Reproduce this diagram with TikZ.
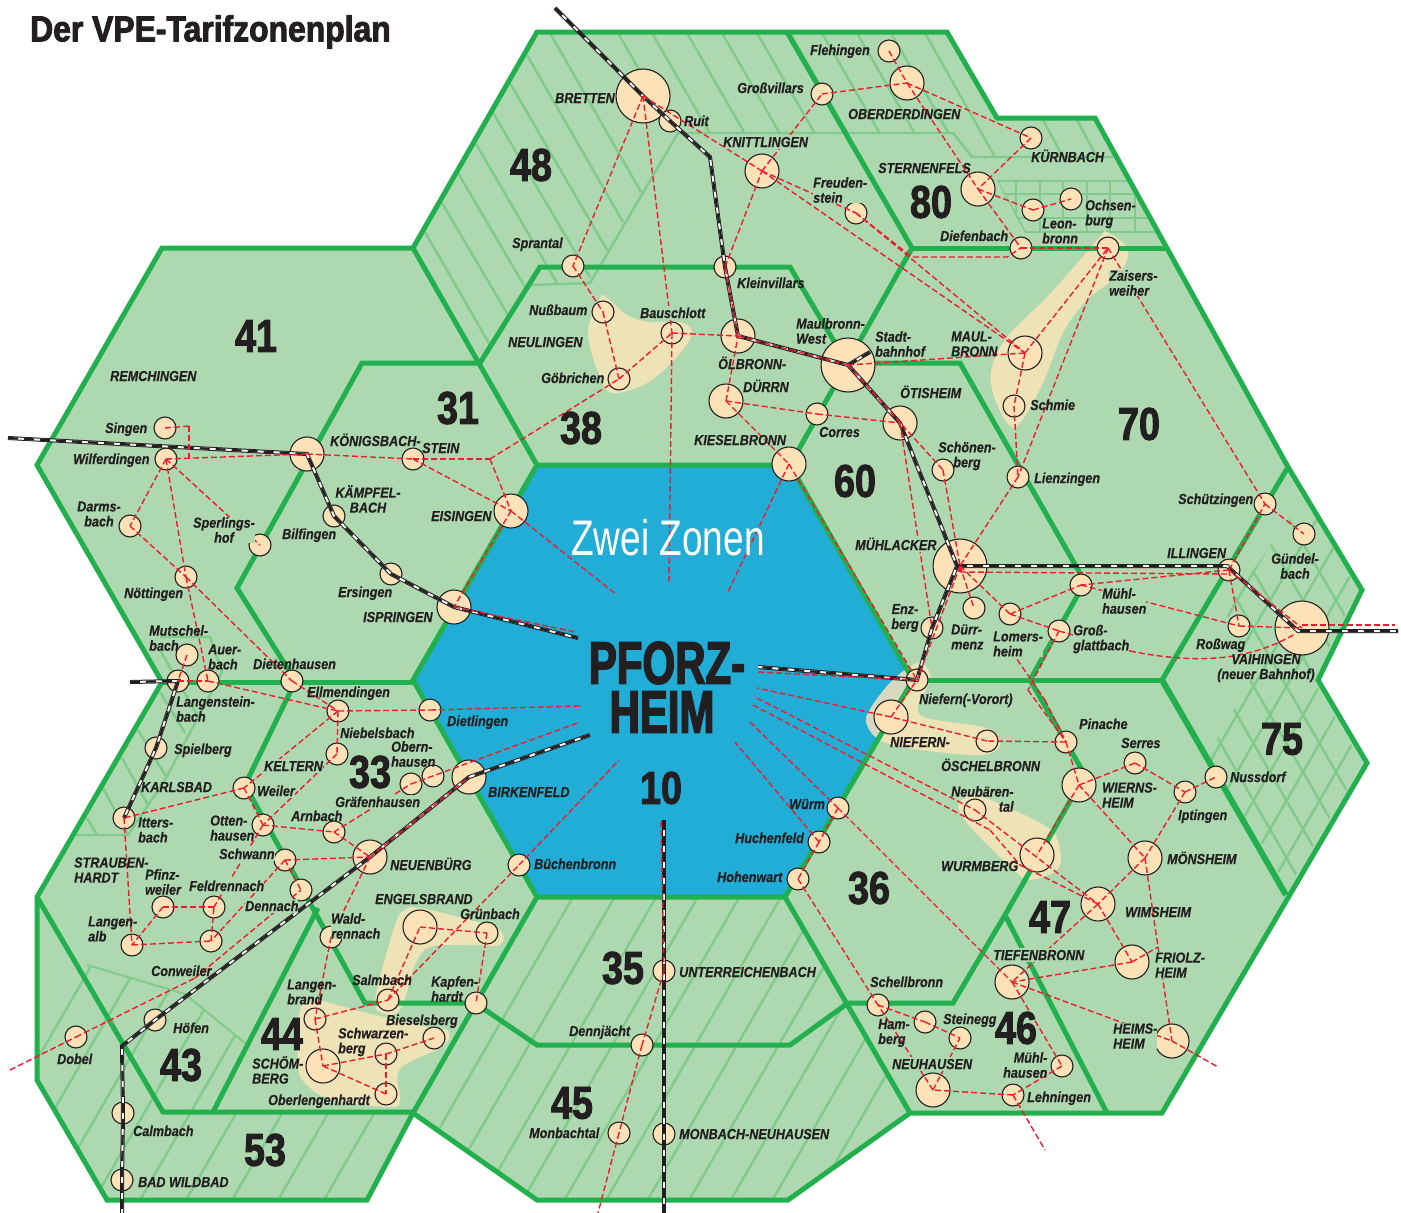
\documentclass[tikz,border=0pt]{standalone}
\usepackage{fontspec}
\setmainfont{Liberation Sans}
\newfontfamily\lblf[FakeStretch=0.87,FakeBold=0.4]{Liberation Sans}
\newfontfamily\numf[FakeStretch=0.82,FakeBold=2]{Liberation Sans}
\newfontfamily\pfof[FakeStretch=0.7,FakeBold=2.5]{Liberation Sans}
\newfontfamily\titf[FakeStretch=0.885,FakeBold=2.5]{Liberation Sans}
\newfontfamily\zwef[FakeStretch=0.74]{Liberation Sans}
\definecolor{zfill}{HTML}{AED8B0}
\definecolor{zline}{HTML}{22B04E}
\definecolor{hline}{HTML}{80CB8C}
\definecolor{cityblue}{HTML}{21ADD5}
\definecolor{stnfill}{HTML}{FDE1B7}
\definecolor{blob}{HTML}{EEE2B7}
\definecolor{blobb}{HTML}{D8D8C2}
\definecolor{redl}{HTML}{ED1C2E}
\definecolor{ink}{HTML}{231F20}
\tikzset{
 zone/.style={draw=zline,line width=5pt,line join=miter,line cap=butt},
 hatch/.style={draw=hline,line width=2.4pt},
 stn/.style={circle,draw=ink,line width=1.1pt,fill=stnfill,inner sep=0pt},
 stnS/.style={stn,minimum size=22pt},
 stnM/.style={stn,minimum size=34pt},
 stnL/.style={stn,minimum size=54pt},
 rl/.style={draw=redl,line width=1.4pt,dash pattern=on 6pt off 3pt},
 rail/.style={draw=ink,line width=4pt,line join=miter,
   postaction={draw=white,line width=2pt},
   postaction={draw=ink,line width=2.2pt,dash pattern=on 10pt off 6pt}},
 lbl/.style={font=\lblf\bfseries\itshape\fontsize{14.5}{15}\selectfont,text=ink,inner sep=0pt,anchor=west,text height=12pt,text depth=2pt},
 lbm/.style={font=\lblf\bfseries\itshape\fontsize{14.5}{15}\selectfont,text=ink,inner sep=0pt,anchor=west,align=left,yshift=-1pt},
 lbc/.style={lbm,anchor=center,align=center},
 mask/.style={fill=zfill},
 num/.style={font=\numf\bfseries\fontsize{46}{46}\selectfont,text=ink,inner sep=0pt,anchor=center},
 pfo/.style={font=\pfof\bfseries\fontsize{60}{60}\selectfont,text=ink,inner sep=0pt,anchor=center},
}
\begin{document}
\begin{tikzpicture}[x=1pt,y=-1pt]
\useasboundingbox (0,0) rectangle (1401,1213);
% --- base area
\fill[zfill] (537,32)--(947,32)--(997,118)--(1095,118)--(1288,467)--(1362,590)--(1318,680)--(1367,763)--(1162,1113)--(910,1113)--(788,1200)--(537,1200)--(413,1113)--(367,1200)--(107,1200)--(37,1080)--(37,897)--(162,682)--(37,465)--(162,248)--(413,248)--cycle;
% --- hatching zone 48 / 80
\foreach \a/\b/\c/\d in {550/33/641/192,527/55/623/222,510/83/607/250,493/113/590/277,475/142/557/283,458/173/525/287,442/203/508/315,425/232/490/345,
 618/33/675/132,652/33/709/132,687/33/744/132,722/33/779/132,757/33/814/132,790/33/847/132,822/33/879/132,857/33/914/132,891/33/948/132,925/33/995/157,1043/120/1063/157,1077/120/1097/157}
  \draw[hatch] (\a,\b)--(\c,\d);
\draw[hatch] (480,363)--(530,285)--(590,283)--(678,133)--(953,133)--(972,157)--(1113,157);
% Ochsenburg grid
\begin{scope}
\clip (997,180)--(1126,180)--(1156,233)--(1025,233)--cycle;
\foreach \y in {181,194,218,232} \draw[hatch] (990,\y)--(1160,\y);
\foreach \x in {1016,1040,1063,1087,1110,1135} \draw[hatch] (\x,181)--(\x,232);
\draw[hatch] (997,181)--(1025,232);
\end{scope}
% zone 75 lattice
\begin{scope}
\clip (1305,497)--(1357,590)--(1313,680)--(1362,763)--(1288,888)--(1208,755)--(1250,680)--(1225,610)--cycle;
\foreach \k in {-8,...,14} \draw[hatch] ({1171+33*\k},486)--++(240,416);
\foreach \k in {0,...,26} \draw[hatch] ({1171+33*\k},486)--++(-240,416);
\end{scope}
% zone 35/45 hatching
\begin{scope}
\clip (537,897)--(785,897)--(848,1003)--(910,1113)--(788,1200)--(537,1200)--(413,1113)--(475,1003)--cycle;
\foreach \k in {-1,...,10} \draw[hatch] ({573+41.6*\k},897)--++(-175,303);
\end{scope}
% zone 43/53 hatching
\begin{scope}
\clip (37,897)--(87,965)--(185,994)--(245,1043)--(213,1112)--(413,1112)--(367,1200)--(107,1200)--(37,1080)--cycle;
\foreach \k in {-4,...,6} \draw[hatch] ({140+46*\k},1200)--++(175,-303);
\end{scope}
\draw[hatch,line width=2pt] (87,965)--(185,994)--(245,1043);
% Karlsbad hatching
\foreach \a/\b/\c/\d in {87/818/97/835,103/788/128/835,122/758/148/805,138/730/167/778,160/692/185/733,160/650/200/720}
  \draw[hatch] (\a,\b)--(\c,\d);
\draw[hatch] (160,637)--(210,637)--(222,672)--(165,780)--(128,835)--(75,835);
% --- cream blobs
\fill[blob] plot[smooth cycle,tension=0.6] coordinates {(600,298)(588,333)(600,377)(613,393)(647,383)(677,357)(692,333)(680,322)(650,322)(627,315)(607,298)};
\fill[blob] plot[smooth cycle,tension=0.6] coordinates {(1107,232)(1128,250)(1118,275)(1087,300)(1063,333)(1043,383)(1020,423)(1007,423)(993,393)(992,367)(1007,337)(1047,297)(1080,260)(1100,237)};
\fill[blob] plot[smooth cycle,tension=0.6] coordinates {(958,807)(967,797)(983,797)(1047,827)(1060,850)(1057,870)(1030,880)(1017,873)(973,830)};
\fill[blob] plot[smooth cycle,tension=0.6] coordinates {(420,908)(470,920)(500,930)(500,945)(470,945)(430,947)(415,965)(400,1010)(380,1012)(376,995)(395,925)(405,910)};
\fill[blob] plot[smooth cycle,tension=0.6] coordinates {(300,1010)(317,1001)(337,1005)(363,1012)(427,1027)(448,1031)(443,1046)(400,1069)(400,1100)(390,1107)(333,1100)(307,1085)(298,1065)};
% --- centre hexagon
\fill[cityblue] (537,465)--(790,465)--(913,680)--(785,897)--(537,897)--(413,680)--cycle;
\fill[blob] plot[smooth cycle,tension=0.6] coordinates {(930,673)(917,663)(890,683)(868,713)(868,727)(880,740)(907,748)(973,755)(997,750)(998,737)(983,727)(927,718)(918,707)(927,687)};
\begin{scope}
\clip (537,465)--(790,465)--(913,680)--(785,897)--(537,897)--(413,680)--cycle;
\fill[blobb] plot[smooth cycle,tension=0.6] coordinates {(930,673)(917,663)(890,683)(868,713)(868,727)(880,740)(907,748)(973,755)(997,750)(998,737)(983,727)(927,718)(918,707)(927,687)};
\end{scope}
% --- zone borders
\draw[zone] (537,32)--(947,32)--(997,118)--(1095,118)--(1288,467)--(1362,590)--(1318,680)--(1367,763)--(1162,1113)--(910,1113)--(788,1200)--(537,1200)--(413,1113)--(367,1200)--(107,1200)--(37,1080)--(37,897)--(162,682)--(37,465)--(162,248)--(413,248)--cycle;
\draw[zone] (537,465)--(790,465)--(913,680)--(785,897)--(537,897)--(413,680)--cycle;
\draw[zone] (413,248)--(537,465);
\draw[zone] (480,363)--(362,363)--(237,588)--(298,685);
\draw[zone] (480,363)--(540,267)--(790,267)--(835,343);
\draw[zone] (787,32)--(912,248)--(790,465);
\draw[zone] (912,248)--(1165,248);
\draw[zone] (848,363)--(960,363)--(1085,582)--(1030,680);
\draw[zone] (1288,467)--(1162,680);
\draw[zone] (913,680)--(1162,680);
\draw[zone,line width=6pt] (1162,680)--(1286,895);
\draw[zone] (1030,680)--(1085,775)--(1005,915)--(953,1003)--(848,1003);
\draw[zone] (1005,915)--(1107,1113);
\draw[zone] (785,897)--(910,1113);
\draw[zone] (848,1003)--(790,1045)--(537,1045)--(475,1003);
\draw[zone] (537,897)--(413,1113);
\draw[zone] (475,1003)--(365,1003)--(245,785)--(295,682);
\draw[zone] (162,682)--(413,682);
\draw[zone] (318,908)--(213,1112);
\draw[zone] (37,897)--(163,1112)--(413,1112);
% --- stations
\node[stnL] (bretten) at (643,96) {};
\node[stnS] (ruit) at (670,121) {};
\node[stnS] (sprantal) at (573,266) {};
\node[stnS] (nussbaum) at (603,312) {};
\node[stnS] (bauschlott) at (672,333) {};
\node[stnS] (goebrichen) at (619,379) {};
\node[stnS] (kleinvillars) at (725,267) {};
\node[stnM] (oelbronn) at (738,336) {};
\node[stnM] (duerrn) at (726,401) {};
\node[stnL] (mwest) at (848,365) {};
\node[stnS] (corres) at (817,414) {};
\node[stnM] (oetisheim) at (900,423) {};
\node[stnM] (kieselbronn) at (789,464) {};
\node[stnM] (knittlingen) at (762,171) {};
\node[stnS] (grossvillars) at (822,94) {};
\node[stnS] (flehingen) at (889,51) {};
\node[stnM] (oberderdingen) at (907,83) {};
\node[stnS] (kuernbach) at (1031,138) {};
\node[stnM] (sternenfels) at (978,189) {};
\node[stnS] (freudenstein) at (856,213) {};
\node[stnS] (leonbronn) at (1033,210) {};
\node[stnS] (ochsenburg) at (1071,199) {};
\node[stnS] (diefenbach) at (1021,248) {};
\node[stnS] (zaisersweiher) at (1108,248) {};
\node[stnM] (maulbronn) at (1025,353) {};
\node[stnS] (schmie) at (1014,406) {};
\node[stnS] (lienzingen) at (1018,477) {};
\node[stnS] (schoenenberg) at (943,470) {};
\node[stnL] (muehlacker) at (960,566) {};
\node[stnS] (duerrmenz) at (974,608) {};
\node[stnS] (lomersheim) at (1010,614) {};
\node[stnS] (enzberg) at (932,628) {};
\node[stnS] (muehlhausenA) at (1081,585) {};
\node[stnS] (illingen) at (1229,570) {};
\node[stnS] (schuetzingen) at (1265,504) {};
\node[stnS] (guendelbach) at (1304,534) {};
\node[stnS] (rosswag) at (1239,626) {};
\node[stnL] (vaihingen) at (1302,628) {};
\node[stnS] (grossglattbach) at (1059,631) {};
\node[stnS] (nieferna) at (917,680) {};
\node[stnM] (niefern) at (891,717) {};
\node[stnS] (oeschelbronn) at (987,741) {};
\node[stnS] (pinache) at (1066,742) {};
\node[stnS] (serres) at (1135,763) {};
\node[stnS] (iptingen) at (1185,792) {};
\node[stnS] (nussdorf) at (1216,777) {};
\node[stnM] (wiernsheim) at (1079,785) {};
\node[stnM] (moensheim) at (1145,858) {};
\node[stnM] (wimsheim) at (1098,904) {};
\node[stnM] (friolzheim) at (1132,962) {};
\node[stnM] (heimsheim) at (1172,1041) {};
\node[stnM] (tiefenbronn) at (1012,982) {};
\node[stnS] (neubaerental) at (975,810) {};
\node[stnM] (wurmberg) at (1037,855) {};
\node[stnS] (wuerm) at (838,808) {};
\node[stnS] (huchenfeld) at (819,842) {};
\node[stnS] (hohenwart) at (798,879) {};
\node[stnS] (schellbronn) at (878,1005) {};
\node[stnS] (hamberg) at (925,1022) {};
\node[stnS] (steinegg) at (960,1038) {};
\node[stnM] (neuhausen) at (933,1090) {};
\node[stnS] (muehlhausenB) at (1062,1066) {};
\node[stnS] (lehningen) at (1013,1095) {};
\node[stnS] (buechenbronn) at (519,865) {};
\node[stnM] (birkenfeld) at (469,777) {};
\node[stnM] (engelsbrand) at (420,927) {};
\node[stnS] (gruenbach) at (487,933) {};
\node[stnS] (kapfenhardt) at (476,1003) {};
\node[stnS] (salmbach) at (388,1000) {};
\node[stnS] (waldrennach) at (331,937) {};
\node[stnM] (neuenbuerg) at (370,857) {};
\node[stnS] (unterreichenbach) at (664,971) {};
\node[stnS] (dennjaecht) at (642,1045) {};
\node[stnS] (monbachtal) at (619,1133) {};
\node[stnS] (monbach) at (664,1134) {};
\node[stnS] (langenbrand) at (315,1019) {};
\node[stnM] (schoemberg) at (323,1066) {};
\node[stnS] (schwarzenberg) at (386,1054) {};
\node[stnS] (bieselsberg) at (434,1038) {};
\node[stnS] (oberlengenhardt) at (386,1094) {};
\node[stnS] (hoefen) at (155,1020) {};
\node[stnS] (dobel) at (76,1037) {};
\node[stnS] (calmbach) at (123,1113) {};
\node[stnS] (wildbad) at (122,1180) {};
\node[stnS] (dennach) at (301,890) {};
\node[stnS] (schwann) at (285,860) {};
\node[stnS] (ottenhausen) at (263,825) {};
\node[stnS] (weiler) at (244,788) {};
\node[stnS] (arnbach) at (334,832) {};
\node[stnS] (graefenhausen) at (411,784) {};
\node[stnS] (obernhausen) at (433,776) {};
\node[stnS] (niebelsbach) at (337,754) {};
\node[stnS] (ellmendingen) at (338,711) {};
\node[stnS] (dietlingen) at (430,710) {};
\node[stnS] (dietenhausen) at (292,681) {};
\node[stnS] (auerbach) at (208,681) {};
\node[stnS] (langenstein) at (178,681) {};
\node[stnS] (mutschelbach) at (187,655) {};
\node[stnS] (spielberg) at (156,748) {};
\node[stnS] (ittersbach) at (124,818) {};
\node[stnS] (pfinzweiler) at (163,907) {};
\node[stnS] (feldrennach) at (214,907) {};
\node[stnS] (conweiler) at (211,941) {};
\node[stnS] (langenalb) at (132,945) {};
\node[stnS] (singen) at (165,428) {};
\node[stnS] (wilferdingen) at (166,459) {};
\node[stnS] (darmsbach) at (130,526) {};
\node[stnS] (sperlingshof) at (260,545) {};
\node[stnS] (noettingen) at (186,577) {};
\node[stnM] (koenigsbach) at (307,454) {};
\node[stnS] (stein) at (413,459) {};
\node[stnS] (bilfingen) at (334,516) {};
\node[stnS] (ersingen) at (391,574) {};
\node[stnM] (ispringen) at (454,607) {};
\node[stnM] (eisingen) at (511,511) {};
% --- free ends
\coordinate (rA) at (555,8);
\coordinate (rAk) at (710,157);
\coordinate (rB) at (758,667);
\coordinate (rC) at (8,438);
\coordinate (rD) at (578,638);
\coordinate (rE) at (130,682);
\coordinate (rF) at (590,735);
\coordinate (rFk) at (122,1046);
\coordinate (rG) at (122,1213);
\coordinate (rH) at (664,820);
\coordinate (rI) at (664,1213);
\coordinate (rJ) at (1398,631);
\coordinate (rS) at (870,352);
\coordinate (rM) at (957,566);
\coordinate (rL) at (1227,566);
\coordinate (rV) at (1298,631);
\coordinate (kA) at (490,459);
\coordinate (kB) at (189,426);
\coordinate (kC) at (189,459);
\coordinate (kD) at (912,257);
\coordinate (kE) at (1007,257);
\coordinate (kF) at (1158,947);
\coordinate (kG) at (195,978);
\coordinate (kH) at (1028,690);
\coordinate (kI) at (1012,652);
\coordinate (kJ) at (1045,700);
\coordinate (kK) at (990,830);
\coordinate (kL) at (1020,865);
\coordinate (mH) at (960,572);
\coordinate (iH) at (1229,574);
\coordinate (cA) at (1130,651);
\coordinate (cB) at (1200,665);
\coordinate (cC) at (1250,660);
\coordinate (vH) at (1295,634);
\coordinate (sP1) at (669,583);
\coordinate (sP2) at (617,595);
\coordinate (sP3) at (576,632);
\coordinate (sP4) at (728,592);
\coordinate (sP5) at (580,706);
\coordinate (sP6) at (580,722);
\coordinate (sP7) at (619,760);
\coordinate (sP8) at (661,820);
\coordinate (sP9) at (735,742);
\coordinate (sP10) at (750,722);
\coordinate (sP11) at (753,705);
\coordinate (sP12) at (757,698);
\coordinate (sP13) at (757,688);
\coordinate (sP14) at (757,672);
\coordinate (eA) at (10,1070);
\coordinate (eB) at (598,1213);
\coordinate (eC) at (1218,1067);
\coordinate (eD) at (1045,1150);
\coordinate (eE) at (1395,625);
\coordinate (vE) at (1302,625);
% --- rail lines
\draw[rail] (rA)--(bretten.center)--(ruit.center)--(rAk)--(kleinvillars.center)--(oelbronn.center)--(mwest.center)--(oetisheim.center)--(rM)--(enzberg.center)--(nieferna.center)--(rB);
\draw[rail] (mwest.center)--(rS);
\draw[rail] (rM)--(rL)--(rV)--(rJ);
\draw[rail] (rC)--(koenigsbach.center)--(bilfingen.center)--(ersingen.center)--(ispringen.center)--(rD);
\draw[rail] (rE)--(langenstein.center)--(spielberg.center)--(ittersbach.center);
\draw[rail] (rF)--(birkenfeld.center)--(neuenbuerg.center)--(hoefen.center)--(rFk)--(calmbach.center)--(wildbad.center)--(rG);
\draw[rail] (rH)--(unterreichenbach.center)--(monbach.center)--(rI);
% --- red connections
\foreach \a/\b in {bretten/knittlingen,bretten/sprantal,bretten/bauschlott,sprantal/nussbaum,nussbaum/goebrichen,goebrichen/bauschlott,bauschlott/oelbronn,bauschlott/sP1,
 kA/goebrichen,stein/kA,kA/eisingen,koenigsbach/stein,stein/eisingen,wilferdingen/koenigsbach,wilferdingen/darmsbach,wilferdingen/noettingen,wilferdingen/sperlingshof,darmsbach/noettingen,noettingen/auerbach,noettingen/dietenhausen,dietenhausen/ellmendingen,mutschelbach/langenstein,langenstein/auerbach,auerbach/ellmendingen,ellmendingen/dietlingen,dietlingen/sP5,ellmendingen/niebelsbach,ellmendingen/weiler,niebelsbach/ottenhausen,weiler/ittersbach,weiler/ottenhausen,ottenhausen/arnbach,arnbach/graefenhausen,graefenhausen/sP6,arnbach/neuenbuerg,ottenhausen/feldrennach,schwann/neuenbuerg,schwann/dennach,schwann/conweiler,feldrennach/pfinzweiler,pfinzweiler/langenalb,langenalb/conweiler,conweiler/feldrennach,ittersbach/langenalb,neuenbuerg/birkenfeld,neuenbuerg/waldrennach,waldrennach/langenbrand,langenbrand/salmbach,langenbrand/schoemberg,schoemberg/schwarzenberg,schwarzenberg/bieselsberg,schoemberg/oberlengenhardt,schwarzenberg/oberlengenhardt,salmbach/engelsbrand,engelsbrand/gruenbach,gruenbach/kapfenhardt,salmbach/buechenbronn,buechenbronn/sP7,
 oelbronn/mwest,oelbronn/kleinvillars,kleinvillars/knittlingen,knittlingen/grossvillars,grossvillars/oberderdingen,flehingen/oberderdingen,oberderdingen/sternenfels,oberderdingen/kuernbach,kuernbach/sternenfels,sternenfels/leonbronn,leonbronn/ochsenburg,sternenfels/diefenbach,diefenbach/zaisersweiher,knittlingen/freudenstein,freudenstein/maulbronn,knittlingen/maulbronn,maulbronn/zaisersweiher,mwest/maulbronn,maulbronn/schmie,schmie/lienzingen,zaisersweiher/lienzingen,zaisersweiher/schuetzingen,lienzingen/muehlacker,duerrn/kieselbronn,duerrn/oelbronn,duerrn/corres,corres/oetisheim,mwest/schoenenberg,schoenenberg/muehlacker,oetisheim/enzberg,muehlacker/nieferna,kieselbronn/nieferna,kieselbronn/sP4,muehlacker/duerrmenz,muehlacker/lomersheim,lomersheim/muehlhausenA,lomersheim/grossglattbach,illingen/muehlhausenA,illingen/schuetzingen,schuetzingen/guendelbach,illingen/vaihingen,illingen/rosswag,rosswag/vaihingen,muehlhausenA/rosswag,
 grossglattbach/kH,kH/pinache,kI/kJ,kJ/pinache,pinache/oeschelbronn,oeschelbronn/niefern,niefern/nieferna,nieferna/sP14,niefern/sP13,pinache/wiernsheim,wiernsheim/serres,serres/iptingen,iptingen/nussdorf,wiernsheim/moensheim,iptingen/moensheim,wiernsheim/wurmberg,moensheim/wimsheim,moensheim/kF,friolzheim/kF,kF/heimsheim,wimsheim/friolzheim,wimsheim/tiefenbronn,friolzheim/tiefenbronn,tiefenbronn/heimsheim,heimsheim/eC,tiefenbronn/muehlhausenB,muehlhausenB/lehningen,lehningen/neuhausen,lehningen/eD,neuhausen/steinegg,neuhausen/schellbronn,schellbronn/hamberg,hamberg/steinegg,wuerm/tiefenbronn,hohenwart/schellbronn,wuerm/huchenfeld,huchenfeld/hohenwart,wuerm/sP10,huchenfeld/sP9,sP12/neubaerental,neubaerental/wimsheim,sP11/kK,kK/kL,kL/wimsheim,ispringen/sP3,eisingen/sP2,eisingen/ispringen,unterreichenbach/sP8,unterreichenbach/dennjaecht,dennjaecht/monbachtal,monbachtal/eB,eA/dobel,dobel/kG,kG/dennach,singen/kB,kB/kC,mH/iH,muehlacker/mH}
  \draw[rl] (\a.center)--(\b.center);
\draw[rl] (freudenstein.center)--(kD.center)--(kE.center)--(diefenbach.center);
\draw[rl] (grossglattbach.center)--(cA.center);
\draw[rl] (cA) .. controls (cB) and (cC) .. (vH);
\draw[rl] (vE.center)--(eE.center);
% --- title and main texts
\node[font=\titf\bfseries\fontsize{36}{36}\selectfont,text=ink,inner sep=0pt,anchor=west] (title) at (30,32) {Der VPE-Tarifzonenplan};
\node[font=\zwef\fontsize{50}{50}\selectfont,text=white,inner sep=0pt] (zwei) at (668,538) {Zwei Zonen};
\node[pfo] (pfa) at (667,663) {PFORZ-};
\node[pfo] (pfb) at (662,712) {HEIM};
% --- zone numbers
\foreach \n/\x/\y in {48/531/165,80/931/202,41/256/336,31/458/408,38/581/428,70/1139/424,60/855/481,75/1282/739,33/370/772,36/869/888,47/1050/917,46/1016/1028,44/282/1034,43/181/1065,53/265/1150,35/623/968,45/572/1103,10/661/788}
  \node[num] (z\n) at (\x,\y) {\n};
% --- labels (single line)
\foreach \m/\t/\x/\y in {
 a1/BRETTEN/555/98,a2/Ruit/684/121,a3/Großvillars/737/88,a4/Flehingen/810/50,a5/OBERDERDINGEN/848/114,
 a7/KÜRNBACH/1031/157,a8/STERNENFELS/878/168,a9/Diefenbach/940/236,
 a10/Sprantal/512/243,a11/Nußbaum/529/310,a13/NEULINGEN/508/342,a14/Göbrichen/541/378,a15/Kleinvillars/737/283,
 a16/ÖLBRONN-/718/364,a17/DÜRRN/743/387,a18/ÖTISHEIM/900/393,a19/Schmie/1030/405,a20/Corres/819/432,a21/KIESELBRONN/694/440,a22/Lienzingen/1034/478,
 a24/Schützingen/1178/499,a25/ILLINGEN/1167/553,a26/Roßwag/1196/644,a27/Niefern(-Vorort)/919/699,a28/NIEFERN-/890/742,a29/ÖSCHELBRONN/941/766,a30/Pinache/1079/724,a31/Serres/1121/743,
 a32/Nussdorf/1230/777,a33/Iptingen/1178/815,a34/MÖNSHEIM/1167/859,a35/WURMBERG/941/866,a36/WIMSHEIM/1125/912,a38/Würm/789/804,a39/Huchenfeld/735/838,a40/Hohenwart/717/877,a41/Schellbronn/870/982,a42/Steinegg/943/1019,
 a44/Lehningen/1027/1097,a45/REMCHINGEN/110/376,a46/Singen/105/428,a47/Wilferdingen/73/459,a48/KÖNIGSBACH-/330/441,a49/STEIN/422/448,a50/EISINGEN/431/516,a51/Bilfingen/282/534,a52/Ersingen/338/592,a53/ISPRINGEN/363/617,a54/Nöttingen/124/593,a55/Dietenhausen/253/664,a56/Ellmendingen/307/692,a57/Dietlingen/447/721,a58/Niebelsbach/340/733,a59/Spielberg/174/749,a60/KARLSBAD/141/787,a63/BIRKENFELD/488/792,a64/Arnbach/291/816,a66/NEUENBÜRG/390/865,a68/ENGELSBRAND/375/899,a70/Grünbach/460/914,a71/Büchenbronn/534/864,a72/Conweiler/151/971,a73/Salmbach/352/980,a74/Höfen/173/1028,a75/Bieselsberg/386/1020,a76/Dobel/57/1059,a77/Oberlengenhardt/268/1100,a78/Calmbach/133/1131,a80/Dennjächt/569/1031,a81/Monbachtal/529/1133}
  \node[lbl] (\m) at (\x,\y) {\t};
% masked single labels (the red lines break at these)
\foreach \m/\t/\x/\y in {b1/KNITTLINGEN/723/142,b2/Bauschlott/640/313,b3/MÜHLACKER/855/545,b4/TIEFENBRONN/993/955,b5/KELTERN/264/766,b6/Weiler/257/791,b7/Gräfenhausen/335/802,b8/Schwann/219/854,b9/Feldrennach/189/886,b10/Dennach/245/906,b11/NEUHAUSEN/892/1064}
  \node[lbl,mask] (\m) at (\x,\y) {\t};
\node[lbl] (bw) at (138,1182) {BAD WILDBAD};
\node[lbl] (ur) at (679,972) {UNTERREICHENBACH};
\node[lbl] (mn) at (679,1134) {MONBACH-NEUHAUSEN};
% --- labels (two lines)
\node[lbm,mask] (c1) at (813,189) {Freuden-\\stein};
\node[lbm] (c2) at (1085,213) {Ochsen-\\burg};
\node[lbm] (c3) at (1042,230) {Leon-\\bronn};
\node[lbm,mask] (c4) at (1109,282) {Zaisers-\\weiher};
\node[lbm] (c5) at (796,330) {Maulbronn-\\West};
\node[lbm] (c6) at (875,343) {Stadt-\\bahnhof};
\node[lbm] (c7) at (951,343) {MAUL-\\BRONN};
\node[lbc] (c8) at (967,455) {Schönen-\\berg};
\node[lbc] (c9) at (1295,565) {Gündel-\\bach};
\node[lbm,mask] (c10) at (1102,600) {Mühl-\\hausen};
\node[lbc] (c11) at (905,617) {Enz-\\berg};
\node[lbm] (c12) at (951,636) {Dürr-\\menz};
\node[lbm,mask] (c13) at (993,643) {Lomers-\\heim};
\node[lbm,mask] (c14) at (1073,638) {Groß-\\glattbach};
\node[lbc] (c15) at (1266,667) {VAIHINGEN\\(neuer Bahnhof)};
\node[lbm,align=right] (c16) at (951,798) {Neubären-\\tal};
\node[lbm] (c17) at (1102,794) {WIERNS-\\HEIM};
\node[lbm,mask] (c18) at (1155,964) {FRIOLZ-\\HEIM};
\node[lbm,mask] (c19) at (1113,1035) {HEIMS-\\HEIM};
\node[lbm] (c20) at (878,1032) {Ham-\\berg};
\node[lbm,align=right] (c21) at (1003,1064) {Mühl-\\hausen};
\node[lbc] (c22) at (368,498) {KÄMPFEL-\\BACH};
\node[lbc] (c23) at (99,513) {Darms-\\bach};
\node[lbc,mask] (c24) at (224,529) {Sperlings-\\hof};
\node[lbm] (c25) at (149,637) {Mutschel-\\bach};
\node[lbm] (c26) at (208,656) {Auer-\\bach};
\node[lbm] (c27) at (176,708) {Langenstein-\\bach};
\node[lbm] (c28) at (391,753) {Obern-\\hausen};
\node[lbm] (c29) at (138,829) {Itters-\\bach};
\node[lbm] (c30) at (210,827) {Otten-\\hausen};
\node[lbm] (c31) at (74,869) {STRAUBEN-\\HARDT};
\node[lbm] (c32) at (145,881) {Pfinz-\\weiler};
\node[lbm,mask] (c33) at (331,925) {Wald-\\rennach};
\node[lbm] (c34) at (88,928) {Langen-\\alb};
\node[lbm] (c35) at (287,991) {Langen-\\brand};
\node[lbm] (c36) at (431,988) {Kapfen-\\hardt};
\node[lbm] (c37) at (338,1041) {Schwarzen-\\berg};
\node[lbm] (c38) at (252,1069) {SCHÖM-\\BERG};
\end{tikzpicture}
\end{document}
